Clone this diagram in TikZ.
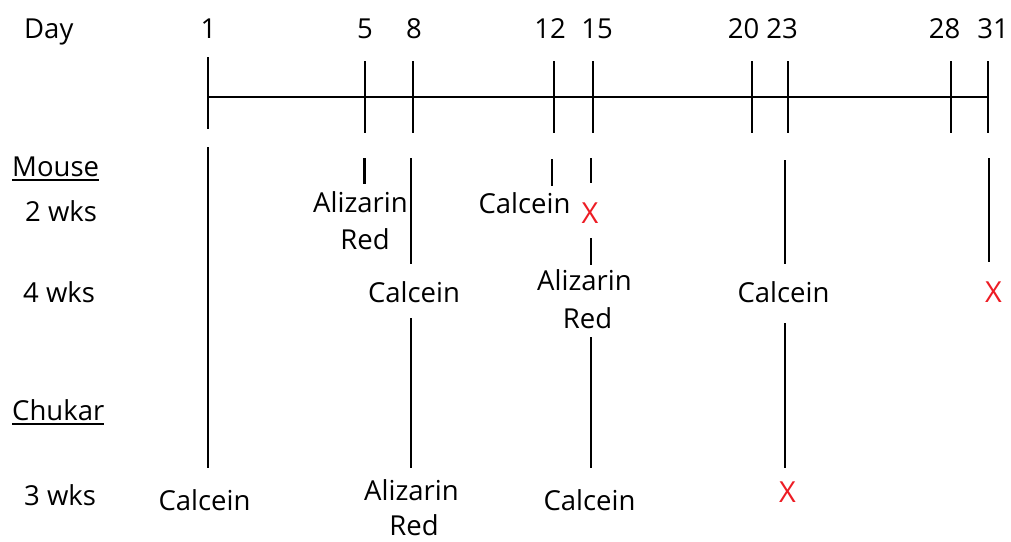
\documentclass[tikz,border=0pt]{standalone}
\usepackage{fontspec}
\setmainfont{Open Sans}
\definecolor{markred}{RGB}{237,28,36}
\begin{document}
\begin{tikzpicture}[x=1pt,y=-1pt,
  lbl/.style={inner sep=0pt, anchor=base, font=\fontsize{27.5}{37}\selectfont},
  rowlbl/.style={lbl, anchor=base west},
  stopmark/.style={lbl, text=markred, font=\fontsize{29}{37}\selectfont},
  rule/.style={line width=2.4pt},
  uline/.style={line width=1.6pt}]
\useasboundingbox (0,0) rectangle (1011,541);

% ---- day axis ----
\node[rowlbl] (dayhdr) at (24,38.5) {Day};
\coordinate (axL) at (208,97);
\coordinate (axR) at (988,97);
\draw[rule] (axL) -- (axR);
\foreach \n/\x/\t/\b in {1/208/57/129, 5/365/61/133, 8/413/61/133, 12/554/61/133,
    15/593/61/133, 20/752/61/133, 23/788/61/133, 28/951/61/133, 31/988/61/133} {
  \coordinate (tk\n-a) at (\x,\t);
  \coordinate (tk\n-b) at (\x,\b);
  \draw[rule] (tk\n-a) -- (tk\n-b);
}
\foreach \n/\x in {1/208.5, 5/365, 8/414, 12/550, 15/597, 20/743.5, 23/782, 28/944.5, 31/993}
  \node[lbl] (day\n) at (\x,38.5) {\n};

% ---- row headings ----
\node[rowlbl] (mouse) at (12,176) {Mouse};
\draw[uline] ([yshift=-4pt]mouse.base west) -- ([yshift=-4pt]mouse.base east);
\node[rowlbl] (m2) at (25,221.5) {2 wks};
\node[rowlbl] (m4) at (23,302) {4 wks};
\node[rowlbl] (chukar) at (12,420) {Chukar};
\draw[uline] ([yshift=-4pt]chukar.base west) -- ([yshift=-4pt]chukar.base east);
\node[rowlbl] (c3) at (24,505) {3 wks};

% ---- day 1 ----
\coordinate (d1-a) at (208,147);
\coordinate (d1-b) at (208,468);
\draw[rule] (d1-a) -- (d1-b);
\node[lbl] (cal1) at (204.5,510) {Calcein};

% ---- day 5 ----
\coordinate (d5-a) at (364.5,158);
\coordinate (d5-b) at (364.5,184);
\draw[rule] (d5-a) -- (d5-b);
\node[lbl] (ali5) at (360.5,212) {Alizarin};
\node[lbl] (red5) at (365,249) {Red};

% ---- day 8 ----
\coordinate (d8-a) at (411,158);
\coordinate (d8-b) at (411,264);
\coordinate (d8-c) at (411,318);
\coordinate (d8-d) at (411,468);
\draw[rule] (d8-a) -- (d8-b);
\draw[rule] (d8-c) -- (d8-d);
\node[lbl] (cal8) at (414,302) {Calcein};
\node[lbl] (ali8) at (411.5,500) {Alizarin};
\node[lbl] (red8) at (414,535.5) {Red};

% ---- day 12 ----
\coordinate (d12-a) at (552,159);
\coordinate (d12-b) at (552,186);
\draw[rule] (d12-a) -- (d12-b);
\node[lbl] (cal12) at (524.5,213) {Calcein};

% ---- day 15 ----
\coordinate (d15-a) at (591,158);
\coordinate (d15-b) at (591,183);
\coordinate (d15-c) at (591,238);
\coordinate (d15-d) at (591,265);
\coordinate (d15-e) at (591,337);
\coordinate (d15-f) at (591,468);
\draw[rule] (d15-a) -- (d15-b);
\draw[rule] (d15-c) -- (d15-d);
\draw[rule] (d15-e) -- (d15-f);
\node[stopmark] (x15) at (590,223) {X};
\node[lbl] (ali15) at (584.5,290) {Alizarin};
\node[lbl] (red15) at (587.5,328) {Red};
\node[lbl] (cal15) at (589.5,510) {Calcein};

% ---- day 23 ----
\coordinate (d23-a) at (785,160);
\coordinate (d23-b) at (785,264);
\coordinate (d23-c) at (785,323);
\coordinate (d23-d) at (785,468);
\draw[rule] (d23-a) -- (d23-b);
\draw[rule] (d23-c) -- (d23-d);
\node[lbl] (cal23) at (783.5,302) {Calcein};
\node[stopmark] (x23) at (787.5,502) {X};

% ---- day 31 ----
\coordinate (d31-a) at (989,158);
\coordinate (d31-b) at (989,262);
\draw[rule] (d31-a) -- (d31-b);
\node[stopmark] (x31) at (993.5,302) {X};
\end{tikzpicture}
\end{document}
